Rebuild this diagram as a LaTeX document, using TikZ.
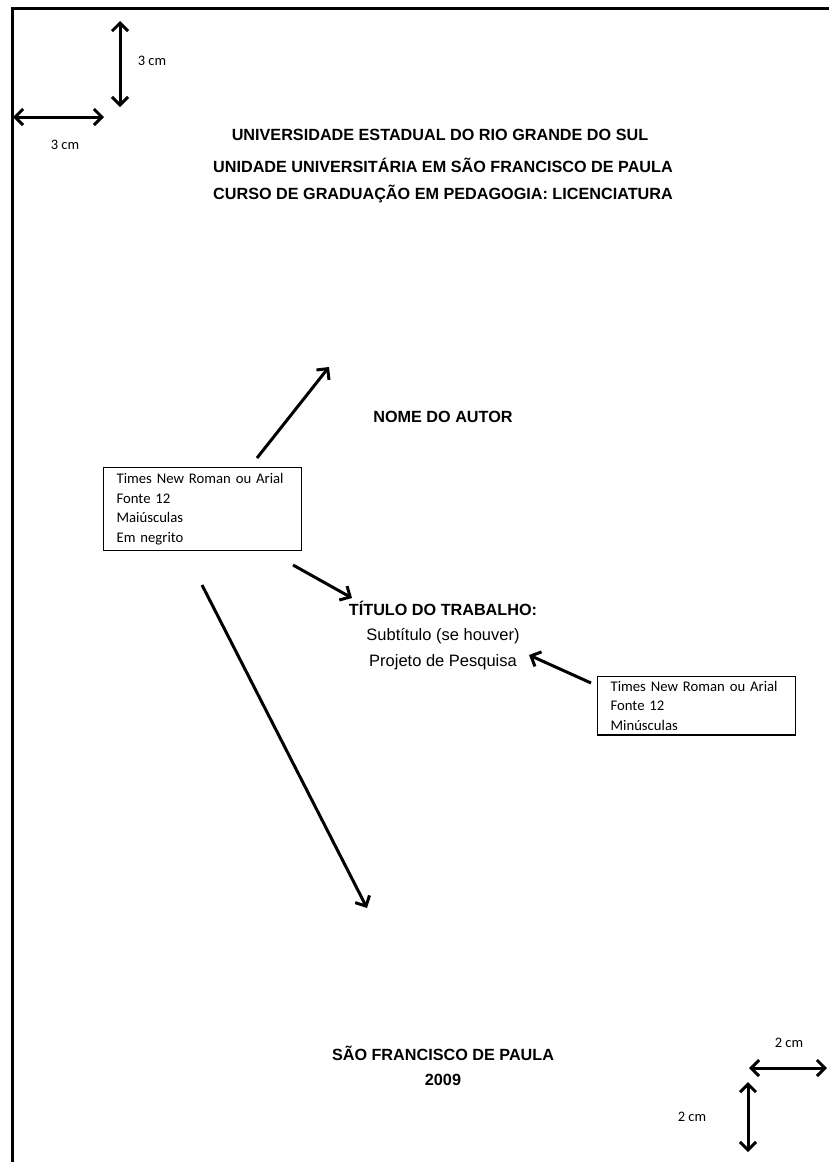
\documentclass[tikz,border=0pt]{standalone}
\usepackage{fontspec}
\setmainfont{Liberation Sans}
\newfontfamily\calib{Carlito}
\usetikzlibrary{arrows.meta}
\begin{document}
\begin{tikzpicture}[x=1pt,y=-1pt,
  arr/.style={line width=3pt,-{Straight Barb[length=8pt,width=16pt,line width=3pt]}},
  darr/.style={line width=3pt,{Straight Barb[length=8pt,width=16pt,line width=3pt]}-{Straight Barb[length=8pt,width=16pt,line width=3pt]}},
  head/.style={font=\fontsize{16.2}{19}\selectfont\bfseries,inner sep=0pt,anchor=center},
  plain/.style={font=\fontsize{16.5}{19}\selectfont,inner sep=0pt,anchor=center},
  lbl/.style={font=\calib\fontsize{14.5}{17}\selectfont,inner sep=0pt},
  infobox/.style={draw,line width=1.2pt,font=\calib\fontsize{14.7}{19.5}\selectfont,align=left,anchor=north west,inner xsep=13pt,inner ysep=6pt,text width=172pt}
]
\useasboundingbox (0,0) rectangle (829,1162);
\fill[white] (0,0) rectangle (829,1162);
% page frame
\draw[line width=3pt] (12,1162) -- (12,8) -- (829,8);
% margins
\coordinate (v3a) at (120,21);
\coordinate (v3b) at (120,107);
\draw[darr] (v3a) -- (v3b);
\node[lbl] (l3v) at (152,61) {3 cm};
\coordinate (h3a) at (13,117);
\coordinate (h3b) at (104,117);
\draw[darr] (h3a) -- (h3b);
\node[lbl] (l3h) at (65,145) {3 cm};
\coordinate (h2a) at (749,1068);
\coordinate (h2b) at (827,1068);
\draw[darr] (h2a) -- (h2b);
\node[lbl] (l2h) at (789,1043) {2 cm};
\coordinate (v2a) at (748,1082);
\coordinate (v2b) at (748,1152);
\draw[darr] (v2a) -- (v2b);
\node[lbl] (l2v) at (692,1117) {2 cm};
% header
\node[head] (h1) at (440,135) {UNIVERSIDADE ESTADUAL DO RIO GRANDE DO SUL};
\node[head] (h2) at (443,165) {UNIDADE UNIVERSITÁRIA EM SÃO FRANCISCO DE PAULA};
\node[head] (h3) at (443,194) {CURSO DE GRADUAÇÃO EM PEDAGOGIA: LICENCIATURA};
\node[head] (autor) at (443,417) {NOME DO AUTOR};
\node[head] (titulo) at (443,608) {TÍTULO DO TRABALHO:};
\node[plain] (sub) at (443,636) {Subtítulo (se houver)};
\node[plain] (proj) at (443,662) {Projeto de Pesquisa};
\node[head] (cidade) at (443,1053) {SÃO FRANCISCO DE PAULA};
\node[head] (ano) at (443,1080) {2009};
% boxes
\node[infobox] (box1) at (103,467) {Times New Roman ou Arial\\Fonte 12\\Maiúsculas\\Em negrito};
\node[infobox,inner ysep=4.5pt] (box2) at (597,676) {Times New Roman ou Arial\\Fonte 12\\Minúsculas};
% arrows
\coordinate (a1s) at (257,458);
\coordinate (a1e) at (329,367);
\draw[arr] (a1s) -- (a1e);
\coordinate (a2s) at (293,565);
\coordinate (a2e) at (352,598);
\draw[arr] (a2s) -- (a2e);
\coordinate (a3s) at (202,585);
\coordinate (a3e) at (367,908);
\draw[arr] (a3s) -- (a3e);
\coordinate (a4s) at (591,683);
\coordinate (a4e) at (529,655);
\draw[arr] (a4s) -- (a4e);
\end{tikzpicture}
\end{document}
